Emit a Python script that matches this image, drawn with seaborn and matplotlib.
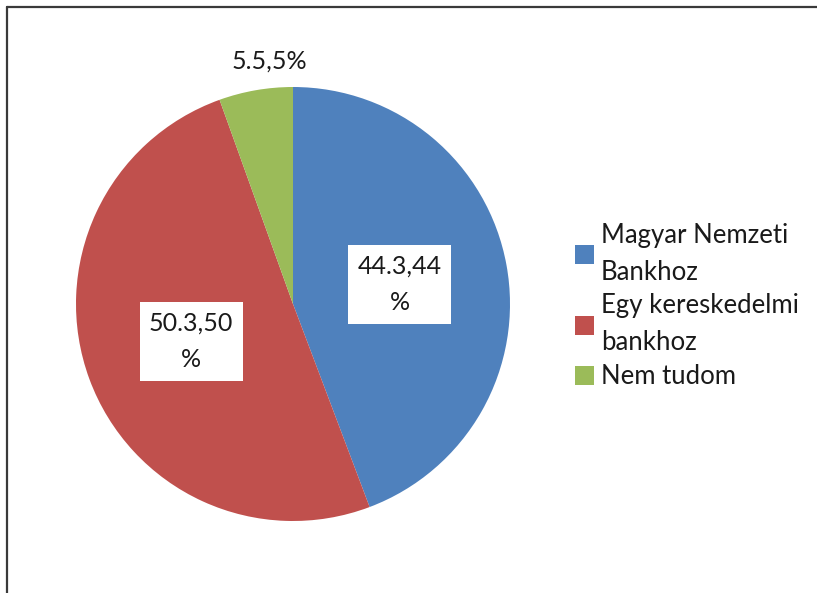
import matplotlib
matplotlib.use("Agg")
import matplotlib.pyplot as plt
import seaborn as sns
import numpy as np
from matplotlib.lines import Line2D
from matplotlib.patches import Patch

sns.set_theme(style="white")
plt.rcParams['font.family'] = ['Lato', 'DejaVu Sans']

categories = ["Magyar Nemzeti\nBankhoz", "Egy kereskedelmi\nbankhoz", "Nem tudom"]
values = [44.3, 50.3, 5.5]
point_labels = ["44.3,44\n%", "50.3,50\n%", "5.5,5%"]
colors = ["#4F81BD", "#C0504D", "#9BBB59"]

fig = plt.figure(figsize=(8.17, 5.93), dpi=100)
ax = fig.add_axes([76 / 817, 1 - 521 / 593, 434 / 817, 434 / 593])

wedges, _ = ax.pie(values, colors=colors, startangle=90, counterclock=False,
                   radius=1, wedgeprops=dict(linewidth=0))
ax.set_xlim(-1, 1)
ax.set_ylim(-1, 1)
ax.set_aspect('equal')
ax.axis('off')

# data labels: inside boxes for the big slices, outside for the small one
for w, lab, v in zip(wedges, point_labels, values):
    mid = np.deg2rad((w.theta1 + w.theta2) / 2)
    if v > 10:
        d = 0.5
        ax.text(d * np.cos(mid), d * np.sin(mid), lab, ha='center', va='center',
                fontsize=18, color='#1a1a1a', linespacing=1.7,
                bbox=dict(boxstyle='square,pad=0.38', fc='white', ec='none'))
    else:
        d = 1.135
        ax.text(0.55 * d * np.cos(mid), d * np.sin(mid), lab, ha='center', va='center',
                fontsize=18, color='#1a1a1a')

handles = [Patch(facecolor=c, edgecolor='none') for c in colors]
leg = fig.legend(handles, categories, loc='center left', bbox_to_anchor=(575 / 817, 1 - 306 / 593),
                 frameon=False, fontsize=18.5, handlelength=0.75, handleheight=0.75,
                 handletextpad=0.25, labelspacing=0.35, borderpad=0, borderaxespad=0)
for t in leg.get_texts():
    t.set_color('#1a1a1a')
    t.set_linespacing(1.6)

# chart border (left and top edges visible)
fig.add_artist(Line2D([7 / 817, 7 / 817], [0, 1 - 7 / 593], transform=fig.transFigure,
                      color='#3a3a3a', linewidth=1.6))
fig.add_artist(Line2D([7 / 817, 1], [1 - 7 / 593, 1 - 7 / 593], transform=fig.transFigure,
                      color='#3a3a3a', linewidth=1.6))

fig.savefig("out.png", dpi=100)
